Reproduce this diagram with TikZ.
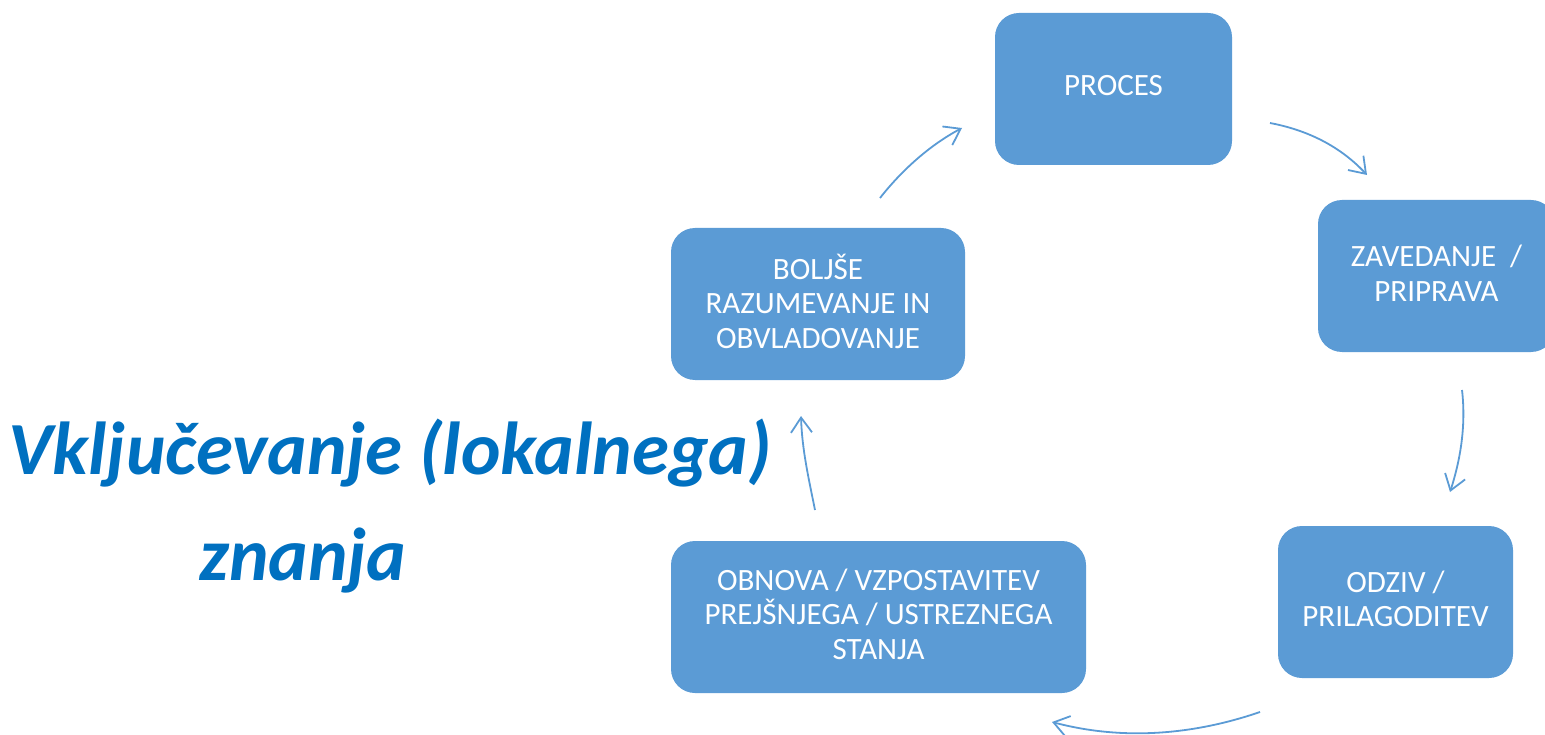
\documentclass[tikz,border=0pt]{standalone}
\usepackage{fontspec}
\setmainfont{Carlito}
\usetikzlibrary{arrows.meta}
\definecolor{boxblue}{HTML}{5B9BD5}
\definecolor{titleblue}{HTML}{0070C0}
\begin{document}
\begin{tikzpicture}[x=1pt,y=-1pt,
  stepbox/.style={fill=boxblue, draw=none, rounded corners=24pt, minimum height=152pt, inner sep=0pt},
  steptext/.style={text=white, align=center, inner sep=0pt, font=\fontsize{31}{34.5}\selectfont},
  cyc/.style={draw=boxblue, line width=1.8pt,
    -{Straight Barb[length=15pt,width=21pt,line width=1.8pt]}},
  titletext/.style={text=titleblue, font=\fontsize{75}{90}\selectfont\bfseries\itshape, anchor=base, inner sep=0pt}]
\useasboundingbox (0,0) rectangle (1545,735);
\clip (0,0) rectangle (1545,735);
\node[stepbox, minimum width=237pt] (proc) at (1113.5,89) {};
\node[stepbox, minimum width=237pt] (zav) at (1436.5,276) {};
\node[stepbox, minimum width=235pt] (odz) at (1395.5,602) {};
\node[stepbox, minimum width=415pt] (obn) at (878.5,617) {};
\node[stepbox, minimum width=294pt] (bol) at (818,304) {};
\node[steptext] (proct) at ([yshift=3pt]proc.center) {PROCES};
\node[steptext] (zavt) at ([yshift=3pt]zav.center) {ZAVEDANJE~~/\\PRIPRAVA};
\node[steptext] (odzt) at ([yshift=3pt]odz.center) {ODZIV /\\PRILAGODITEV};
\node[steptext] (obnt) at ([yshift=3pt]obn.center) {OBNOVA / VZPOSTAVITEV\\PREJŠNJEGA / USTREZNEGA\\STANJA};
\node[steptext] (bolt) at ([yshift=3pt]bol.center) {BOLJŠE\\RAZUMEVANJE IN\\OBVLADOVANJE};
\node[titletext] (t1) at (390,474) {Vključevanje (lokalnega)};
\node[titletext] (t2) at (303,580) {znanja};
\coordinate (a1s) at (880,198); \coordinate (a1e) at (962,128);
\coordinate (a2s) at (1270,123); \coordinate (a2e) at (1367,175);
\coordinate (a3s) at (1462,390); \coordinate (a3e) at (1450,492);
\coordinate (a4s) at (1260,712); \coordinate (a4e) at (1052,722);
\coordinate (a5s) at (815,510); \coordinate (a5e) at (801,416);
\draw[cyc] (a1s) .. controls (902,170) and (930,145) .. (a1e);
\draw[cyc] (a2s) .. controls (1307,130) and (1340,146) .. (a2e);
\draw[cyc] (a3s) .. controls (1466,424) and (1461,458) .. (a3e);
\draw[cyc] (a4s) .. controls (1190,736) and (1120,740) .. (a4e);
\draw[cyc] (a5s) .. controls (809,480) and (802,450) .. (a5e);
\end{tikzpicture}
\end{document}
